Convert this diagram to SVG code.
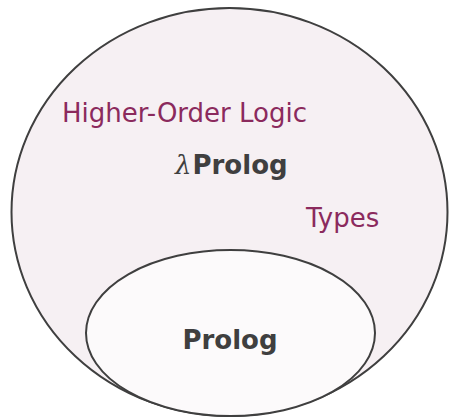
<svg xmlns="http://www.w3.org/2000/svg" width="449" height="417" viewBox="0 0 449 417">
  <style>
    .region { stroke: #3f3f3f; stroke-width: 2; }
    .label { font-family: "DejaVu Sans", sans-serif; font-size: 26px; fill: #8b2a5d; }
    .name { font-family: "DejaVu Sans", sans-serif; font-size: 26px; font-weight: bold; fill: #3f3f3f; }
    .lambda { font-family: "DejaVu Serif", serif; font-style: italic; font-weight: normal; }
  </style>
  <rect width="449" height="417" fill="#ffffff"/>
  <g id="lambda-prolog">
    <ellipse class="region" cx="229.5" cy="212" rx="218" ry="204" fill="#f6f0f3"/>
    <text class="label" x="62" y="122">Higher-Order Logic</text>
    <text class="name" x="175" y="174"><tspan class="lambda">λ</tspan><tspan dx="1">Prolog</tspan></text>
    <text class="label" x="306" y="227">Types</text>
  </g>
  <g id="prolog">
    <ellipse class="region" cx="230.5" cy="333" rx="144.5" ry="83" fill="#fcfafb"/>
    <text class="name" x="230" y="349" text-anchor="middle">Prolog</text>
  </g>
  <g id="connectors"/>
</svg>
